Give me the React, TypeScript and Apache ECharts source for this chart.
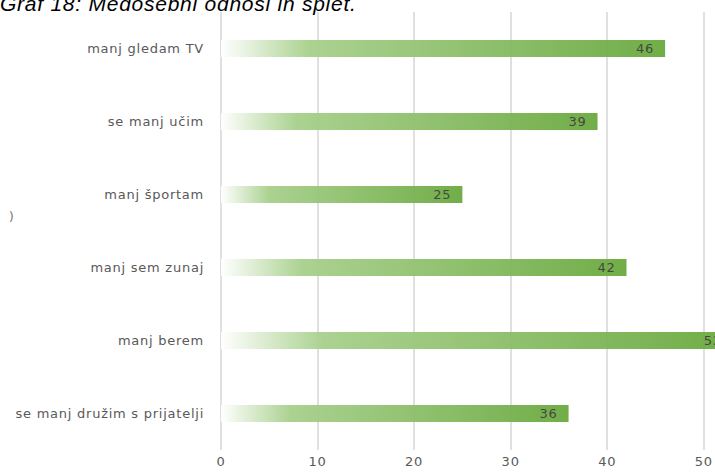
import React, { useEffect, useRef } from "react";
import * as echarts from "echarts";

const titleText = "Graf 18: Medosebni odnosi in splet.";
const categories = [
  "manj gledam TV",
  "se manj učim",
  "manj športam",
  "manj sem zunaj",
  "manj berem",
  "se manj družim s prijatelji",
];
const values = [46, 39, 25, 42, 53, 36];
const axisMin = 0;
const axisMax = 50;
const axisStep = 10;

export default function App() {
  const ref = useRef<HTMLDivElement>(null);
  useEffect(() => {
    if (!ref.current) return;
    const chart = echarts.init(ref.current, undefined, { renderer: "svg" });
    const font = '"DejaVu Sans", sans-serif';
    chart.setOption({
      animation: false,
      backgroundColor: "#ffffff",
      grid: { left: 221, right: 9.5, top: 12, bottom: 26, containLabel: false },
      xAxis: {
        type: "value",
        min: axisMin,
        max: axisMax,
        interval: axisStep,
        axisLine: { show: false },
        axisTick: { show: false },
        splitLine: { show: true, lineStyle: { color: "#d9d9d9", width: 1.6 } },
        axisLabel: { color: "#595959", fontSize: 13, fontFamily: font, margin: 5 },
      },
      yAxis: {
        type: "category",
        inverse: true,
        data: categories,
        axisLine: { show: false },
        axisTick: { show: false },
        axisLabel: { color: "#595959", fontSize: 13, fontFamily: font, margin: 17 },
      },
      series: [
        {
          type: "bar",
          data: values,
          barWidth: 17,
          clip: false,
          itemStyle: {
            opacity: 0.94,
            color: new echarts.graphic.LinearGradient(0, 0, 1, 0, [
              { offset: 0, color: "#ffffff" },
              { offset: 0.2, color: "#a6cf8a" },
              { offset: 1, color: "#68a83c" },
            ]),
          },
          label: {
            show: true,
            position: "insideRight",
            distance: 11,
            color: "#404040",
            fontSize: 13,
            fontFamily: font,
          },
        },
      ],
      graphic: [
        {
          type: "text",
          x: 0,
          y: 13.5,
          style: {
            text: titleText,
            font: 'italic 21px "Liberation Sans", sans-serif',
            fill: "#000000",
            verticalAlign: "bottom",
          },
        },
        {
          type: "text",
          x: 9,
          y: 217,
          style: {
            text: ")",
            font: '12px "DejaVu Sans", sans-serif',
            fill: "#707070",
            verticalAlign: "middle",
          },
        },
      ],
    });
    return () => chart.dispose();
  }, []);
  return (
    <>
      <style>{`.chartbox svg text { letter-spacing: 0.75px; }`}</style>
      <div
        ref={ref}
        className="chartbox"
        style={{ position: "fixed", left: 0, top: 0, width: 715, height: 476, overflow: "hidden" }}
      />
    </>
  );
}
